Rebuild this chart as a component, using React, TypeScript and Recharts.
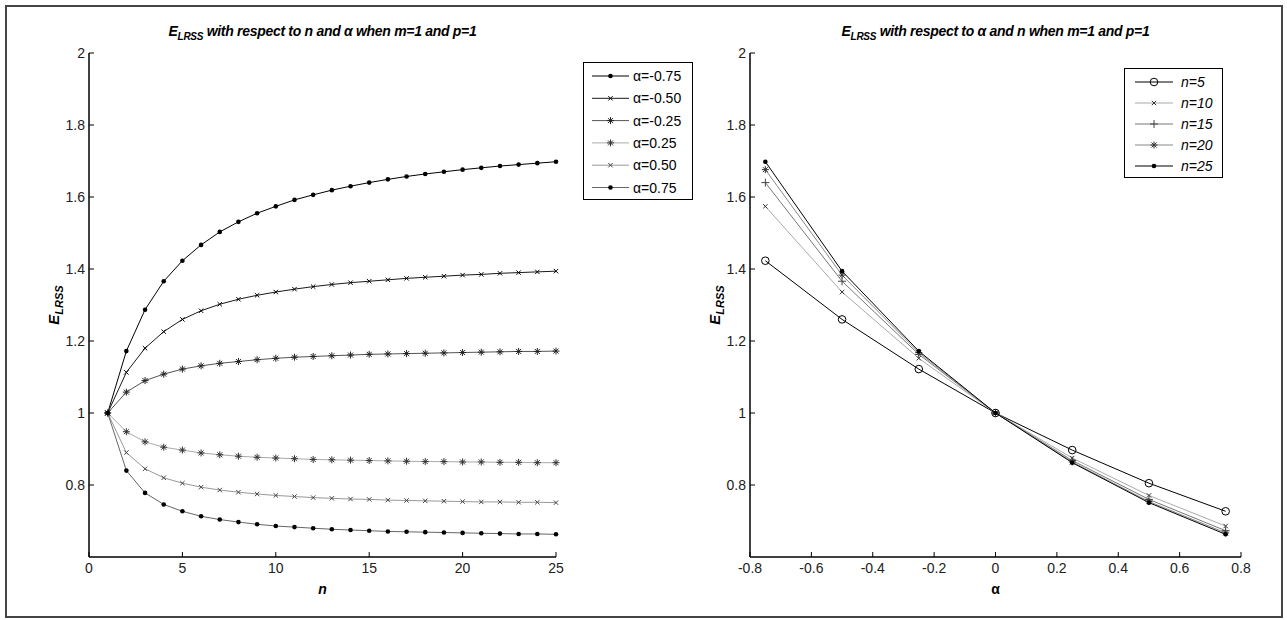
import React from 'react';
import { LineChart, Line, XAxis, YAxis, Legend } from 'recharts';

// ---------- data ----------
const nValues = [1, 2, 3, 4, 5, 6, 7, 8, 9, 10, 11, 12, 13, 14, 15, 16, 17, 18, 19, 20, 21, 22, 23, 24, 25];

const eAlphaM075 = [1.0, 1.172, 1.287, 1.366, 1.423, 1.467, 1.503, 1.531, 1.555, 1.574, 1.592, 1.606, 1.619, 1.630, 1.640, 1.649, 1.657, 1.664, 1.670, 1.676, 1.681, 1.686, 1.690, 1.694, 1.698];
const eAlphaM050 = [1.0, 1.113, 1.180, 1.226, 1.260, 1.284, 1.302, 1.316, 1.327, 1.336, 1.344, 1.351, 1.357, 1.362, 1.366, 1.370, 1.374, 1.377, 1.380, 1.383, 1.385, 1.388, 1.390, 1.392, 1.394];
const eAlphaM025 = [1.0, 1.058, 1.090, 1.108, 1.122, 1.131, 1.138, 1.143, 1.148, 1.152, 1.155, 1.157, 1.159, 1.161, 1.163, 1.164, 1.165, 1.166, 1.167, 1.168, 1.169, 1.170, 1.171, 1.171, 1.172];
const eAlphaP025 = [1.0, 0.948, 0.920, 0.905, 0.897, 0.889, 0.884, 0.880, 0.877, 0.875, 0.873, 0.871, 0.870, 0.869, 0.868, 0.867, 0.866, 0.865, 0.865, 0.864, 0.864, 0.863, 0.863, 0.862, 0.862];
const eAlphaP050 = [1.0, 0.890, 0.845, 0.820, 0.805, 0.794, 0.786, 0.780, 0.775, 0.771, 0.768, 0.765, 0.763, 0.761, 0.760, 0.758, 0.757, 0.756, 0.755, 0.754, 0.753, 0.753, 0.752, 0.752, 0.751];
const eAlphaP075 = [1.0, 0.840, 0.778, 0.746, 0.727, 0.713, 0.704, 0.697, 0.691, 0.686, 0.683, 0.680, 0.677, 0.675, 0.673, 0.671, 0.670, 0.669, 0.668, 0.667, 0.666, 0.665, 0.664, 0.664, 0.663];

const alphaLabels = ['α=-0.75', 'α=-0.50', 'α=-0.25', 'α=0.25', 'α=0.50', 'α=0.75'];
const alphaValues = [-0.75, -0.5, -0.25, 0, 0.25, 0.5, 0.75];
const eAtAlphaZero = 1.0;

const nSelected = [5, 10, 15, 20, 25];
const nLabels = ['n=5', 'n=10', 'n=15', 'n=20', 'n=25'];

const xTicksN = [0, 5, 10, 15, 20, 25];
const xTicksAlpha = [-0.8, -0.6, -0.4, -0.2, 0, 0.2, 0.4, 0.6, 0.8];
const yTicks = [0.8, 1, 1.2, 1.4, 1.6, 1.8, 2];

// ---------- styles ----------
type Shape = 'dot' | 'x' | 'star' | 'plus' | 'circle';
const leftSeries: { key: string; label: string; values: number[]; line: string; mark: string; shape: Shape }[] = [
  { key: 'a0', label: alphaLabels[0], values: eAlphaM075, line: '#000000', mark: '#000000', shape: 'dot' },
  { key: 'a1', label: alphaLabels[1], values: eAlphaM050, line: '#1a1a1a', mark: '#000000', shape: 'x' },
  { key: 'a2', label: alphaLabels[2], values: eAlphaM025, line: '#555555', mark: '#222222', shape: 'star' },
  { key: 'a3', label: alphaLabels[3], values: eAlphaP025, line: '#aaaaaa', mark: '#333333', shape: 'star' },
  { key: 'a4', label: alphaLabels[4], values: eAlphaP050, line: '#999999', mark: '#444444', shape: 'x' },
  { key: 'a5', label: alphaLabels[5], values: eAlphaP075, line: '#666666', mark: '#000000', shape: 'dot' },
];

const rightStyles: { line: string; mark: string; shape: Shape }[] = [
  { line: '#000000', mark: '#000000', shape: 'circle' },
  { line: '#aaaaaa', mark: '#333333', shape: 'x' },
  { line: '#777777', mark: '#444444', shape: 'plus' },
  { line: '#888888', mark: '#333333', shape: 'star' },
  { line: '#000000', mark: '#000000', shape: 'dot' },
];

const seriesByAlpha: (number[] | null)[] = [eAlphaM075, eAlphaM050, eAlphaM025, null, eAlphaP025, eAlphaP050, eAlphaP075];

const leftData = nValues.map((n, i) => {
  const row: Record<string, number> = { n };
  leftSeries.forEach((s) => (row[s.key] = s.values[i]));
  return row;
});

const rightData = alphaValues.map((a, ai) => {
  const row: Record<string, number> = { alpha: a };
  nSelected.forEach((n) => {
    const s = seriesByAlpha[ai];
    row['n' + n] = s ? s[nValues.indexOf(n)] : eAtAlphaZero;
  });
  return row;
});

const FONT = "'Liberation Sans', Arial, Helvetica, sans-serif";

// ---------- markers ----------
function Marker({ shape, cx, cy, color }: { shape: Shape; cx: number; cy: number; color: string }) {
  if (cx == null || cy == null || isNaN(cx) || isNaN(cy)) return null;
  switch (shape) {
    case 'dot':
      return <circle cx={cx} cy={cy} r={2.3} fill={color} stroke="none" />;
    case 'circle':
      return <circle cx={cx} cy={cy} r={3.8} fill="none" stroke={color} strokeWidth={1} />;
    case 'x': {
      const s = 2.2;
      return <path d={`M${cx - s},${cy - s}L${cx + s},${cy + s}M${cx - s},${cy + s}L${cx + s},${cy - s}`} stroke={color} strokeWidth={1} fill="none" />;
    }
    case 'plus': {
      const s = 4;
      return <path d={`M${cx - s},${cy}L${cx + s},${cy}M${cx},${cy - s}L${cx},${cy + s}`} stroke={color} strokeWidth={1} fill="none" />;
    }
    case 'star': {
      const s = 3.5;
      const d = 2.5;
      return (
        <path
          d={`M${cx - s},${cy}L${cx + s},${cy}M${cx},${cy - s}L${cx},${cy + s}M${cx - d},${cy - d}L${cx + d},${cy + d}M${cx - d},${cy + d}L${cx + d},${cy - d}`}
          stroke={color}
          strokeWidth={1}
          fill="none"
        />
      );
    }
  }
  return null;
}

const makeDot = (shape: Shape, color: string) => (p: any) => (
  <Marker key={`m-${p.index}`} shape={shape} cx={p.cx} cy={p.cy} color={color} />
);

// ---------- ticks ----------
const TICK = 5;
const fmt = (v: number) => String(v);

const BottomTick = (props: any) => {
  const { x, y, payload } = props;
  return (
    <g>
      <line x1={x} y1={y} x2={x} y2={y - TICK} stroke="#000" strokeWidth={1} />
      <text x={x} y={y + 16} textAnchor="middle" fontSize={14} fontFamily={FONT} fill="#222">
        {fmt(payload.value)}
      </text>
    </g>
  );
};
const TopTick = (props: any) => {
  const { x, y } = props;
  return <line x1={x} y1={y} x2={x} y2={y + TICK} stroke="#000" strokeWidth={1} />;
};
const LeftTick = (props: any) => {
  const { x, y, payload } = props;
  return (
    <g>
      <line x1={x} y1={y} x2={x + TICK} y2={y} stroke="#000" strokeWidth={1} />
      <text x={x - 4} y={y + 5} textAnchor="end" fontSize={14} fontFamily={FONT} fill="#222">
        {fmt(payload.value)}
      </text>
    </g>
  );
};
const RightTick = (props: any) => {
  const { x, y } = props;
  return <line x1={x} y1={y} x2={x - TICK} y2={y} stroke="#000" strokeWidth={1} />;
};

const axisLine = { stroke: '#000', strokeWidth: 1.5 };

const YLabel = (props: any) => {
  const vb = props.viewBox;
  const cx = vb.x + 10;
  const cy = vb.y + vb.height / 2;
  return (
    <text
      x={cx}
      y={cy}
      transform={`rotate(-90 ${cx} ${cy})`}
      textAnchor="middle"
      fontFamily={FONT}
      fontWeight="bold"
      fontStyle="italic"
      fontSize={15}
      fill="#000"
    >
      E<tspan fontSize={11} dy={4}>LRSS</tspan>
    </text>
  );
};

const makeXLabel = (txt: string, italic: boolean) => (props: any) => {
  const vb = props.viewBox;
  return (
    <text
      x={vb.x + vb.width / 2}
      y={vb.y + 37}
      textAnchor="middle"
      fontFamily={FONT}
      fontWeight="bold"
      fontStyle={italic ? 'italic' : 'normal'}
      fontSize={14}
      fill="#000"
    >
      {txt}
    </text>
  );
};

// ---------- legends ----------
function LegendBox({
  items,
  width,
  height,
  rowStart,
  rowStep,
  lineX1,
  lineX2,
  textX,
  italic,
}: {
  items: { label: string; line: string; mark: string; shape: Shape }[];
  width: number;
  height: number;
  rowStart: number;
  rowStep: number;
  lineX1: number;
  lineX2: number;
  textX: number;
  italic: boolean;
}) {
  return (
    <svg width={width} height={height} style={{ display: 'block' }}>
      <rect x={0.5} y={0.5} width={width - 1} height={height - 1} fill="#fff" stroke="#000" strokeWidth={1} />
      {items.map((it, i) => {
        const y = rowStart + i * rowStep;
        return (
          <g key={i}>
            <line x1={lineX1} y1={y} x2={lineX2} y2={y} stroke={it.line} strokeWidth={1} />
            <Marker shape={it.shape} cx={(lineX1 + lineX2) / 2} cy={y} color={it.mark} />
            <text x={textX} y={y + 5} fontSize={14} fontFamily={FONT} fontStyle={italic ? 'italic' : 'normal'} fill="#000">
              {it.label}
            </text>
          </g>
        );
      })}
    </svg>
  );
}

const titleStyle: React.CSSProperties = {
  position: 'absolute',
  top: 23,
  textAlign: 'center',
  fontFamily: FONT,
  fontWeight: 'bold',
  fontStyle: 'italic',
  fontSize: 14,
  whiteSpace: 'nowrap',
  color: '#000',
  letterSpacing: -0.3,
};

function Title({ left, width, rest }: { left: number; width: number; rest: React.ReactNode }) {
  return (
    <div style={{ ...titleStyle, left, width }}>
      E<sub style={{ fontSize: 10, verticalAlign: -4 }}>LRSS</sub> {rest}
    </div>
  );
}

export default function App() {
  return (
    <div style={{ position: 'absolute', left: 0, top: 0, width: 1287, height: 620, background: '#fff', overflow: 'hidden' }}>
      <div
        style={{
          position: 'absolute',
          left: 5,
          top: 5,
          width: 1278,
          height: 613,
          border: '2px solid #444',
          boxSizing: 'border-box',
        }}
      />
      {/* Left chart */}
      <div style={{ position: 'absolute', left: 0, top: 0 }}>
        <LineChart width={640} height={620} data={leftData} margin={{ top: 53, right: 84, bottom: 33, left: 49 }}>
          <XAxis
            dataKey="n"
            type="number"
            domain={[0, 25]}
            ticks={xTicksN}
            tickSize={0}
            tickMargin={0}
            tick={BottomTick}
            axisLine={axisLine}
            height={30}
            interval={0}
            label={{ content: makeXLabel('n', true) }}
          />
          <XAxis xAxisId="top" orientation="top" type="number" domain={[0, 25]} ticks={xTicksN} tickSize={0} tickMargin={0} tick={TopTick} axisLine={axisLine} height={0} interval={0} />
          <YAxis
            type="number"
            domain={[0.6, 2]}
            ticks={yTicks}
            tickSize={0}
            tickMargin={0}
            tick={LeftTick}
            axisLine={axisLine}
            width={40}
            interval={0}
            allowDataOverflow
            label={{ content: YLabel }}
          />
          <YAxis yAxisId="right" orientation="right" type="number" domain={[0.6, 2]} ticks={yTicks} tickSize={0} tickMargin={0} tick={RightTick} axisLine={axisLine} width={0} interval={0} />
          {leftSeries.map((s) => (
            <Line
              key={s.key}
              dataKey={s.key}
              name={s.label}
              type="linear"
              stroke={s.line}
              strokeWidth={1}
              dot={makeDot(s.shape, s.mark)}
              activeDot={false}
              isAnimationActive={false}
            />
          ))}
          <Legend
            layout="vertical"
            align="center"
            verticalAlign="middle"
            wrapperStyle={{ left: 583, top: 62, width: 110, height: 138 }}
            content={() => (
              <LegendBox
                items={leftSeries}
                width={110}
                height={138}
                rowStart={14}
                rowStep={22.3}
                lineX1={9}
                lineX2={46}
                textX={50}
                italic={false}
              />
            )}
          />
        </LineChart>
      </div>
      <Title left={89} width={467} rest={<>with respect to <span>n</span> and α when m=1 and p=1</>} />

      {/* Right chart */}
      <div style={{ position: 'absolute', left: 640, top: 0 }}>
        <LineChart width={647} height={620} data={rightData} margin={{ top: 53, right: 46, bottom: 33, left: 70 }}>
          <XAxis
            dataKey="alpha"
            type="number"
            domain={[-0.8, 0.8]}
            ticks={xTicksAlpha}
            tickSize={0}
            tickMargin={0}
            tick={BottomTick}
            axisLine={axisLine}
            height={30}
            interval={0}
            label={{ content: makeXLabel('α', false) }}
          />
          <XAxis xAxisId="top" orientation="top" type="number" domain={[-0.8, 0.8]} ticks={xTicksAlpha} tickSize={0} tickMargin={0} tick={TopTick} axisLine={axisLine} height={0} interval={0} />
          <YAxis
            type="number"
            domain={[0.6, 2]}
            ticks={yTicks}
            tickSize={0}
            tickMargin={0}
            tick={LeftTick}
            axisLine={axisLine}
            width={40}
            interval={0}
            allowDataOverflow
            label={{ content: YLabel }}
          />
          <YAxis yAxisId="right" orientation="right" type="number" domain={[0.6, 2]} ticks={yTicks} tickSize={0} tickMargin={0} tick={RightTick} axisLine={axisLine} width={0} interval={0} />
          {nSelected.map((n, i) => (
            <Line
              key={'n' + n}
              dataKey={'n' + n}
              name={nLabels[i]}
              type="linear"
              stroke={rightStyles[i].line}
              strokeWidth={1}
              dot={makeDot(rightStyles[i].shape, rightStyles[i].mark)}
              activeDot={false}
              isAnimationActive={false}
            />
          ))}
          <Legend
            layout="vertical"
            align="center"
            verticalAlign="middle"
            wrapperStyle={{ left: 484, top: 68, width: 99, height: 110 }}
            content={() => (
              <LegendBox
                items={nLabels.map((l, i) => ({ label: l, ...rightStyles[i] }))}
                width={99}
                height={110}
                rowStart={14}
                rowStep={21}
                lineX1={11}
                lineX2={49}
                textX={57}
                italic={true}
              />
            )}
          />
        </LineChart>
      </div>
      <Title left={750} width={491} rest={<>with respect to α and n when m=1 and p=1</>} />
    </div>
  );
}
